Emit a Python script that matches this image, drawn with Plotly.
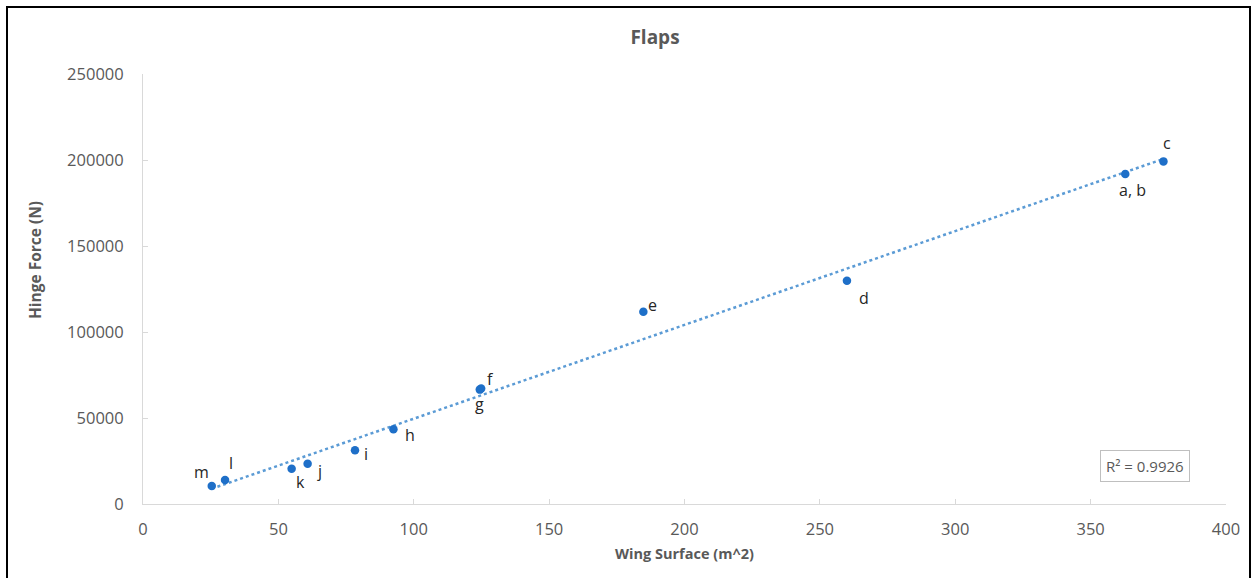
import numpy as np
import plotly.graph_objects as go

# ---- data ----
labels = ["m", "l", "k", "j", "i", "h", "g", "f", "e", "d", "a, b", "c"]
wing_surface = [25.4, 30.3, 54.9, 60.8, 78.3, 92.5, 124.4, 124.9, 184.8, 260.0, 362.8, 376.9]
hinge_force = [10470, 13950, 20540, 23450, 31200, 43400, 66500, 67100, 111800, 129800, 191900, 199200]
r2_text = "R² = 0.9926"
x_ticks = [0, 50, 100, 150, 200, 250, 300, 350, 400]
y_ticks = [0, 50000, 100000, 150000, 200000, 250000]

# ---- styles ----
# pixel offsets (dx right, dy up) of each point label from its marker
label_dx = [-10, 6, 9, 12, 11, 17, 0, 9, 9, 17, 7, 4]
label_dy = [14, 17, -13, -7, -4, -6, -14, 10, 7, -17, -16, 18]
FONT = "Open Sans"
GRAY = "#595959"

x = np.array(wing_surface)
y = np.array(hinge_force)
slope, intercept = np.polyfit(x, y, 1)
xt = np.array([x.min(), x.max()])
yt = slope * xt + intercept

fig = go.Figure()
fig.add_trace(go.Scatter(
    x=xt, y=yt, mode="lines",
    line=dict(color="#5B9BD5", width=2.5, dash="dot"),
    hoverinfo="skip", showlegend=False))
fig.add_trace(go.Scatter(
    x=wing_surface, y=hinge_force, mode="markers",
    marker=dict(color="#1E6FC8", size=8.5),
    showlegend=False))

for lab, xv, yv, dx, dy in zip(labels, wing_surface, hinge_force, label_dx, label_dy):
    fig.add_annotation(x=xv, y=yv, xref="x", yref="y", text=lab, showarrow=False,
                       xshift=dx, yshift=dy,
                       font=dict(family=FONT, size=16, color="#262626"))

fig.add_annotation(
    x=370.2, y=22100, xref="x", yref="y", text=r2_text, showarrow=False,
    font=dict(family=FONT, size=15, color=GRAY),
    bordercolor="#BFBFBF", borderwidth=1, borderpad=5, bgcolor="white")

fig.add_annotation(
    x=(35 - 143) / 1083, y=(504 - 260) / 430, xref="paper", yref="paper",
    text="<b>Hinge Force (N)</b>", textangle=-90, showarrow=False,
    xanchor="center", yanchor="middle",
    font=dict(family=FONT, size=15.5, color=GRAY))

fig.add_shape(type="rect", xref="paper", yref="paper",
              x0=(7 - 143) / 1083, x1=(1250 - 143) / 1083,
              y0=-0.3, y1=(504 - 7) / 430,
              line=dict(color="black", width=2), fillcolor="rgba(0,0,0,0)")

fig.update_layout(
    width=1254, height=578,
    margin=dict(l=143, r=28, t=74, b=74, autoexpand=False),
    paper_bgcolor="white", plot_bgcolor="white",
    title=dict(text="<b>Flaps</b>", x=655 / 1254, xanchor="center",
               y=1 - 37 / 578, yanchor="middle",
               font=dict(family=FONT, size=19, color=GRAY)),
    font=dict(family=FONT, color=GRAY),
)
fig.update_xaxes(
    range=[0, 400], tickvals=x_ticks, ticktext=[str(v) for v in x_ticks],
    showgrid=False, zeroline=False, showline=True, linecolor="#D9D9D9", linewidth=1,
    ticks="inside", ticklen=5, tickcolor="#D9D9D9", ticklabelstandoff=10,
    tickfont=dict(family=FONT, size=16.5, color=GRAY),
    title=dict(text="<b>Wing Surface (m^2)</b>", font=dict(family=FONT, size=14.5, color=GRAY),
               standoff=10))
fig.update_yaxes(
    range=[0, 250000], tickvals=y_ticks, ticktext=[str(v) for v in y_ticks],
    showgrid=False, zeroline=False, showline=True, linecolor="#D9D9D9", linewidth=1,
    ticks="inside", ticklen=5, tickcolor="#D9D9D9", ticklabelstandoff=15,
    tickfont=dict(family=FONT, size=16.5, color=GRAY))

fig.write_html("out.html", config={"displayModeBar": False},
               post_script="document.body.style.margin='0';")
